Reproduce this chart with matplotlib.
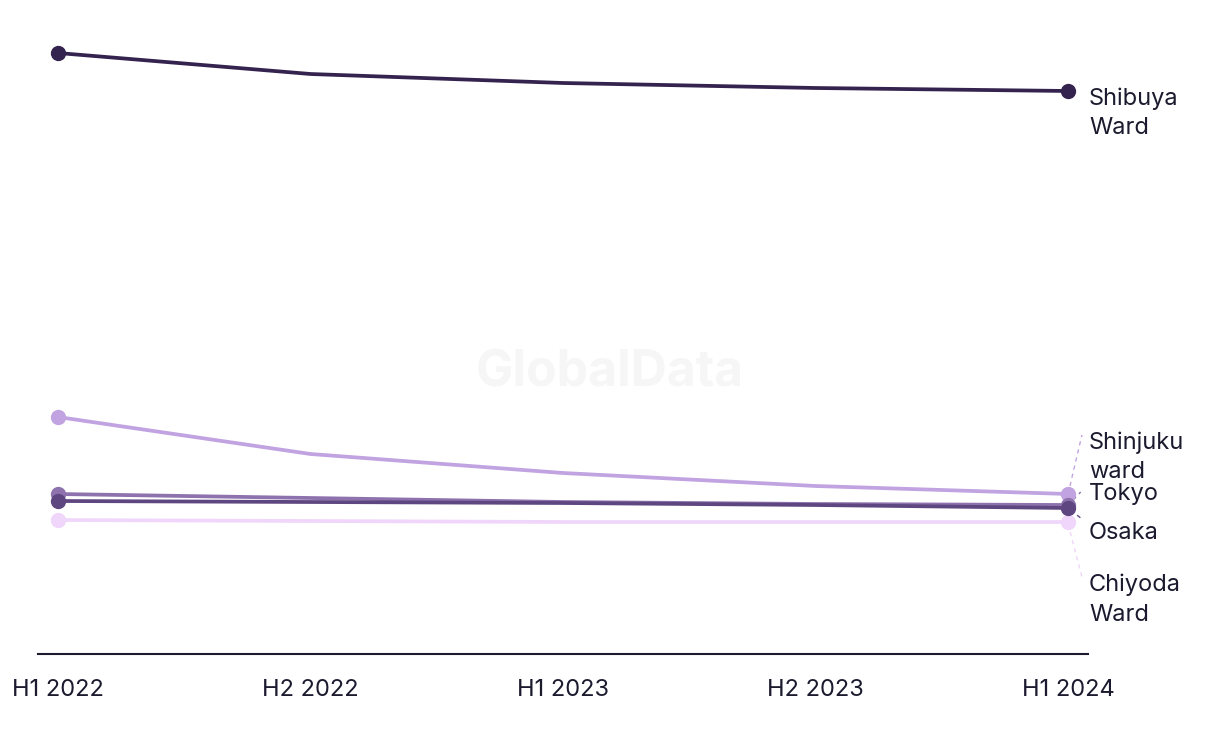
import matplotlib
matplotlib.use("Agg")
import matplotlib.pyplot as plt

plt.rcParams['font.family'] = ['Inter', 'DejaVu Sans']

# data (index values)
periods = ["H1 2022", "H2 2022", "H1 2023", "H2 2023", "H1 2024"]
shibuya = [60.1, 58.0, 57.1, 56.6, 56.3]
shinjuku = [23.7, 20.0, 18.1, 16.8, 16.0]
tokyo = [16.0, 15.6, 15.2, 15.0, 14.9]
osaka = [15.3, 15.2, 15.1, 14.9, 14.6]
chiyoda = [13.4, 13.3, 13.2, 13.2, 13.2]

names = ["Shibuya\nWard", "Shinjuku\nward", "Tokyo", "Osaka", "Chiyoda\nWard"]
series = [shibuya, shinjuku, tokyo, osaka, chiyoda]
colors = ["#35234f", "#c0a3e0", "#8d72ad", "#5e4780", "#f0d6fa"]
# label top y, in data units
label_y = [56.7, 22.3, 17.1, 13.2, 8.0]

text_col = "#1b1a2e"

fig = plt.figure(figsize=(12.2, 7.44), dpi=100)
ax = fig.add_axes([38 / 1220, 90 / 744, 1050 / 1220, 634 / 744])

x = list(range(len(periods)))
# draw order: light ones first, dark on top
order = [4, 1, 2, 3, 0]
for i in order:
    ax.plot(x, series[i], color=colors[i], lw=2.7, solid_capstyle="round", zorder=3)
    ax.plot([x[0], x[-1]], [series[i][0], series[i][-1]], "o", color=colors[i],
            ms=10, zorder=4)

lx = 4.083
for i, name in enumerate(names):
    ax.text(lx, label_y[i], name, ha="left", va="top", fontsize=17,
            color=text_col, linespacing=1.42)

# leader lines for the crowded labels
ax.plot([4.0, 4.055], [16.0, 21.9], ls=(0, (3, 3)), lw=1, color=colors[1], zorder=2)
ax.plot([4.02, 4.05], [15.4, 16.2], ls=(0, (3, 3)), lw=1, color=colors[2], zorder=2)
ax.plot([4.01, 4.05], [14.4, 13.6], ls=(0, (3, 3)), lw=1, color=colors[3], zorder=2)
ax.plot([4.0, 4.055], [13.0, 7.7], ls=(0, (3, 3)), lw=1, color=colors[4], zorder=2)

ax.set_xlim(-0.079, 4.079)
ax.set_ylim(0, 63.4)
ax.set_xticks(x)
ax.set_xticklabels(periods, fontsize=17, color=text_col)
ax.tick_params(axis="x", length=0, pad=18)
ax.set_yticks([])
for s in ["top", "right", "left"]:
    ax.spines[s].set_visible(False)
ax.spines["bottom"].set_color(text_col)
ax.spines["bottom"].set_linewidth(1.5)

fig.text(610 / 1220, 1 - 373 / 744, "GlobalData", ha="center", va="center",
         fontsize=36, fontweight="bold", color="#f6f6f6", zorder=0)

fig.savefig("out.png", dpi=100)
